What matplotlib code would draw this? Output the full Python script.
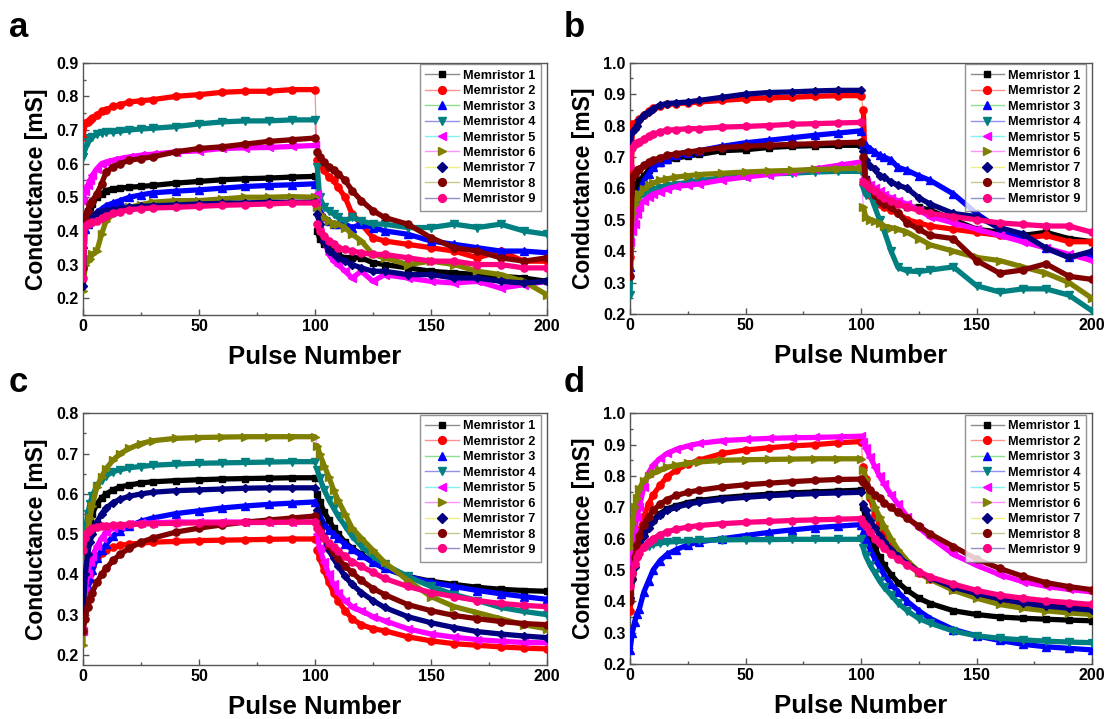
#!/usr/bin/env python3
"""Conductance vs pulse number for nine memristors, measured (a, b) and fitted (c, d)."""
import matplotlib
matplotlib.use('Agg')
import matplotlib.pyplot as plt
from matplotlib.lines import Line2D
from matplotlib.ticker import MultipleLocator

plt.rcParams['font.family'] = ['Liberation Sans', 'DejaVu Sans']
plt.rcParams['font.weight'] = 'bold'

P_RISE = [0, 1, 2, 3, 4, 6, 8, 10, 13, 16, 20, 25, 30, 40, 50, 60, 70, 80, 90, 100]
P_FALL = [101, 102, 104, 106, 108, 110, 113, 116, 120, 125, 130, 140, 150, 160, 170, 180, 190, 200]
PULSES = P_RISE + P_FALL

LABELS = [f'Memristor {i}' for i in range(1, 10)]

# panel a: measured, device set 1 [mS]
A_COND = [
    [0.37, 0.44, 0.46, 0.47, 0.48, 0.50, 0.51, 0.52, 0.525, 0.527, 0.53, 0.532, 0.535, 0.542, 0.547, 0.552, 0.555, 0.557, 0.56, 0.562,
     0.40, 0.377, 0.36, 0.35, 0.34, 0.327, 0.32, 0.32, 0.32, 0.305, 0.30, 0.29, 0.28, 0.275, 0.27, 0.265, 0.26, 0.25],
    [0.68, 0.72, 0.725, 0.73, 0.735, 0.745, 0.755, 0.76, 0.77, 0.775, 0.783, 0.787, 0.79, 0.80, 0.805, 0.812, 0.815, 0.815, 0.82, 0.82,
     0.61, 0.60, 0.58, 0.56, 0.55, 0.53, 0.50, 0.45, 0.42, 0.38, 0.37, 0.36, 0.35, 0.34, 0.32, 0.34, 0.31, 0.31],
    [0.36, 0.405, 0.42, 0.43, 0.44, 0.455, 0.465, 0.475, 0.483, 0.49, 0.50, 0.507, 0.513, 0.518, 0.522, 0.527, 0.532, 0.535, 0.537, 0.54,
     0.50, 0.46, 0.44, 0.43, 0.42, 0.42, 0.42, 0.41, 0.42, 0.41, 0.40, 0.39, 0.37, 0.36, 0.35, 0.34, 0.34, 0.335],
    [0.62, 0.645, 0.665, 0.675, 0.68, 0.688, 0.692, 0.695, 0.695, 0.697, 0.70, 0.703, 0.705, 0.71, 0.718, 0.724, 0.727, 0.727, 0.73, 0.73,
     0.59, 0.50, 0.47, 0.46, 0.45, 0.44, 0.43, 0.44, 0.43, 0.42, 0.42, 0.41, 0.41, 0.42, 0.41, 0.42, 0.40, 0.39],
    [0.49, 0.52, 0.535, 0.55, 0.565, 0.585, 0.60, 0.605, 0.61, 0.615, 0.62, 0.625, 0.628, 0.635, 0.638, 0.645, 0.647, 0.648, 0.651, 0.654,
     0.51, 0.44, 0.37, 0.33, 0.31, 0.30, 0.28, 0.26, 0.28, 0.25, 0.27, 0.26, 0.25, 0.245, 0.25, 0.23, 0.24, 0.25],
    [0.22, 0.30, 0.31, 0.315, 0.33, 0.34, 0.39, 0.43, 0.45, 0.46, 0.47, 0.478, 0.485, 0.49, 0.49, 0.495, 0.50, 0.50, 0.502, 0.50,
     0.47, 0.45, 0.44, 0.43, 0.42, 0.42, 0.41, 0.39, 0.37, 0.33, 0.32, 0.30, 0.31, 0.30, 0.28, 0.27, 0.25, 0.21],
    [0.235, 0.44, 0.443, 0.446, 0.448, 0.452, 0.456, 0.46, 0.463, 0.466, 0.47, 0.473, 0.475, 0.477, 0.48, 0.482, 0.483, 0.485, 0.485, 0.485,
     0.45, 0.42, 0.37, 0.34, 0.33, 0.32, 0.31, 0.30, 0.29, 0.28, 0.28, 0.27, 0.27, 0.26, 0.26, 0.25, 0.245, 0.25],
    [0.29, 0.44, 0.46, 0.48, 0.49, 0.51, 0.54, 0.575, 0.59, 0.60, 0.61, 0.615, 0.62, 0.635, 0.645, 0.65, 0.658, 0.666, 0.671, 0.676,
     0.635, 0.62, 0.605, 0.59, 0.58, 0.57, 0.55, 0.52, 0.49, 0.46, 0.44, 0.42, 0.38, 0.35, 0.34, 0.32, 0.31, 0.32],
    [0.26, 0.415, 0.42, 0.422, 0.425, 0.43, 0.437, 0.445, 0.452, 0.457, 0.463, 0.466, 0.468, 0.47, 0.473, 0.476, 0.478, 0.48, 0.483, 0.483,
     0.42, 0.40, 0.385, 0.37, 0.36, 0.35, 0.345, 0.34, 0.335, 0.33, 0.33, 0.32, 0.31, 0.31, 0.30, 0.30, 0.29, 0.29],
]

# panel b: measured, device set 2 [mS]
B_COND = [
    [0.58, 0.582, 0.604, 0.614, 0.625, 0.64, 0.657, 0.67, 0.68, 0.69, 0.696, 0.703, 0.708, 0.72, 0.723, 0.73, 0.734, 0.736, 0.737, 0.737,
     0.66, 0.63, 0.61, 0.59, 0.58, 0.57, 0.56, 0.55, 0.54, 0.54, 0.53, 0.50, 0.47, 0.46, 0.45, 0.46, 0.44, 0.43],
    [0.38, 0.806, 0.80, 0.81, 0.82, 0.835, 0.845, 0.855, 0.862, 0.867, 0.87, 0.872, 0.875, 0.88, 0.885, 0.888, 0.89, 0.893, 0.895, 0.895,
     0.85, 0.62, 0.58, 0.57, 0.55, 0.54, 0.53, 0.52, 0.50, 0.49, 0.48, 0.47, 0.46, 0.45, 0.44, 0.45, 0.43, 0.43],
    [0.35, 0.51, 0.54, 0.56, 0.587, 0.625, 0.646, 0.667, 0.683, 0.694, 0.705, 0.712, 0.72, 0.734, 0.745, 0.753, 0.761, 0.769, 0.776, 0.783,
     0.742, 0.737, 0.726, 0.715, 0.705, 0.70, 0.69, 0.667, 0.657, 0.64, 0.625, 0.582, 0.52, 0.47, 0.444, 0.41, 0.38, 0.39],
    [0.26, 0.51, 0.54, 0.56, 0.572, 0.583, 0.59, 0.595, 0.60, 0.606, 0.612, 0.62, 0.625, 0.633, 0.64, 0.646, 0.648, 0.652, 0.654, 0.654,
     0.60, 0.58, 0.58, 0.54, 0.50, 0.465, 0.40, 0.348, 0.337, 0.335, 0.34, 0.35, 0.29, 0.27, 0.28, 0.28, 0.26, 0.21],
    [0.43, 0.465, 0.487, 0.518, 0.54, 0.56, 0.572, 0.582, 0.588, 0.598, 0.606, 0.61, 0.614, 0.627, 0.636, 0.644, 0.652, 0.662, 0.673, 0.684,
     0.63, 0.62, 0.61, 0.60, 0.59, 0.58, 0.57, 0.56, 0.55, 0.53, 0.51, 0.49, 0.47, 0.45, 0.43, 0.41, 0.39, 0.37],
    [0.41, 0.52, 0.55, 0.566, 0.582, 0.598, 0.61, 0.617, 0.625, 0.63, 0.636, 0.64, 0.644, 0.648, 0.652, 0.655, 0.657, 0.66, 0.662, 0.665,
     0.54, 0.51, 0.50, 0.495, 0.49, 0.48, 0.475, 0.47, 0.46, 0.44, 0.42, 0.40, 0.38, 0.37, 0.35, 0.33, 0.30, 0.25],
    [0.745, 0.78, 0.79, 0.80, 0.817, 0.833, 0.843, 0.854, 0.865, 0.87, 0.872, 0.875, 0.88, 0.89, 0.90, 0.905, 0.907, 0.91, 0.912, 0.912,
     0.72, 0.69, 0.67, 0.66, 0.64, 0.636, 0.62, 0.61, 0.60, 0.57, 0.55, 0.52, 0.51, 0.475, 0.455, 0.41, 0.38, 0.40],
    [0.32, 0.636, 0.646, 0.657, 0.662, 0.673, 0.683, 0.69, 0.697, 0.705, 0.71, 0.716, 0.72, 0.73, 0.734, 0.737, 0.74, 0.742, 0.745, 0.747,
     0.70, 0.62, 0.60, 0.58, 0.56, 0.55, 0.54, 0.52, 0.49, 0.47, 0.45, 0.44, 0.37, 0.33, 0.34, 0.36, 0.32, 0.31],
    [0.67, 0.73, 0.74, 0.745, 0.748, 0.758, 0.766, 0.772, 0.78, 0.785, 0.787, 0.79, 0.79, 0.795, 0.797, 0.80, 0.804, 0.806, 0.808, 0.81,
     0.62, 0.615, 0.60, 0.59, 0.58, 0.57, 0.56, 0.55, 0.54, 0.53, 0.52, 0.51, 0.50, 0.49, 0.485, 0.48, 0.48, 0.46],
]

# panel c: fitted, device set 1 [mS]
C_COND = [
    [0.33, 0.45, 0.50, 0.53, 0.55, 0.575, 0.59, 0.60, 0.61, 0.617, 0.622, 0.627, 0.63, 0.633, 0.635, 0.637, 0.638, 0.639, 0.64, 0.64,
     0.60, 0.58, 0.555, 0.535, 0.515, 0.50, 0.48, 0.465, 0.45, 0.43, 0.415, 0.395, 0.383, 0.375, 0.368, 0.363, 0.36, 0.358],
    [0.29, 0.34, 0.38, 0.40, 0.42, 0.44, 0.452, 0.46, 0.467, 0.472, 0.475, 0.478, 0.48, 0.482, 0.484, 0.485, 0.486, 0.487, 0.488, 0.488,
     0.46, 0.44, 0.41, 0.38, 0.355, 0.335, 0.31, 0.29, 0.275, 0.265, 0.26, 0.245, 0.235, 0.228, 0.224, 0.22, 0.217, 0.215],
    [0.32, 0.36, 0.37, 0.39, 0.41, 0.44, 0.46, 0.475, 0.495, 0.508, 0.52, 0.532, 0.54, 0.551, 0.558, 0.565, 0.57, 0.574, 0.577, 0.58,
     0.56, 0.545, 0.525, 0.51, 0.50, 0.49, 0.475, 0.462, 0.447, 0.43, 0.415, 0.395, 0.38, 0.37, 0.36, 0.352, 0.345, 0.338],
    [0.45, 0.50, 0.55, 0.575, 0.595, 0.62, 0.635, 0.645, 0.655, 0.66, 0.665, 0.668, 0.671, 0.674, 0.676, 0.677, 0.678, 0.679, 0.68, 0.68,
     0.66, 0.64, 0.61, 0.585, 0.565, 0.545, 0.52, 0.495, 0.47, 0.445, 0.425, 0.395, 0.37, 0.35, 0.335, 0.318, 0.308, 0.30],
    [0.26, 0.36, 0.40, 0.43, 0.445, 0.47, 0.49, 0.505, 0.515, 0.52, 0.525, 0.527, 0.528, 0.53, 0.53, 0.53, 0.53, 0.53, 0.53, 0.53,
     0.50, 0.465, 0.43, 0.40, 0.375, 0.355, 0.335, 0.32, 0.31, 0.295, 0.285, 0.265, 0.252, 0.244, 0.238, 0.234, 0.231, 0.23],
    [0.225, 0.45, 0.50, 0.54, 0.57, 0.618, 0.642, 0.663, 0.684, 0.70, 0.713, 0.725, 0.732, 0.738, 0.74, 0.741, 0.742, 0.742, 0.742, 0.742,
     0.72, 0.70, 0.67, 0.642, 0.61, 0.584, 0.55, 0.515, 0.49, 0.46, 0.43, 0.385, 0.345, 0.32, 0.305, 0.29, 0.275, 0.265],
    [0.30, 0.40, 0.45, 0.48, 0.50, 0.53, 0.55, 0.565, 0.578, 0.587, 0.594, 0.60, 0.604, 0.608, 0.61, 0.612, 0.614, 0.615, 0.615, 0.615,
     0.56, 0.53, 0.49, 0.46, 0.44, 0.42, 0.395, 0.375, 0.355, 0.335, 0.318, 0.295, 0.28, 0.268, 0.258, 0.252, 0.247, 0.243],
    [0.26, 0.29, 0.32, 0.34, 0.355, 0.38, 0.40, 0.415, 0.435, 0.45, 0.465, 0.48, 0.49, 0.505, 0.515, 0.523, 0.53, 0.535, 0.54, 0.545,
     0.525, 0.51, 0.49, 0.47, 0.455, 0.44, 0.42, 0.405, 0.385, 0.365, 0.35, 0.325, 0.31, 0.298, 0.29, 0.283, 0.278, 0.275],
    [0.46, 0.49, 0.505, 0.51, 0.515, 0.518, 0.52, 0.521, 0.522, 0.523, 0.524, 0.525, 0.526, 0.527, 0.528, 0.528, 0.529, 0.529, 0.53, 0.53,
     0.515, 0.505, 0.49, 0.478, 0.468, 0.458, 0.445, 0.432, 0.42, 0.405, 0.39, 0.37, 0.355, 0.345, 0.335, 0.328, 0.323, 0.32],
]

# panel d: fitted, device set 2 [mS]
D_COND = [
    [0.42, 0.48, 0.52, 0.55, 0.575, 0.615, 0.64, 0.66, 0.68, 0.695, 0.705, 0.715, 0.722, 0.731, 0.737, 0.742, 0.746, 0.749, 0.752, 0.755,
     0.70, 0.66, 0.61, 0.57, 0.54, 0.515, 0.485, 0.46, 0.435, 0.41, 0.393, 0.37, 0.358, 0.35, 0.346, 0.343, 0.34, 0.338],
    [0.37, 0.47, 0.54, 0.59, 0.62, 0.67, 0.71, 0.74, 0.77, 0.798, 0.819, 0.838, 0.851, 0.872, 0.883, 0.89, 0.896, 0.90, 0.906, 0.91,
     0.83, 0.79, 0.73, 0.68, 0.645, 0.615, 0.58, 0.55, 0.52, 0.49, 0.47, 0.44, 0.42, 0.405, 0.395, 0.39, 0.385, 0.38],
    [0.245, 0.30, 0.335, 0.36, 0.375, 0.43, 0.465, 0.50, 0.53, 0.55, 0.565, 0.58, 0.59, 0.60, 0.61, 0.62, 0.628, 0.635, 0.64, 0.645,
     0.62, 0.60, 0.565, 0.535, 0.51, 0.485, 0.455, 0.43, 0.40, 0.37, 0.345, 0.31, 0.29, 0.275, 0.263, 0.255, 0.25, 0.245],
    [0.45, 0.53, 0.55, 0.56, 0.565, 0.572, 0.578, 0.582, 0.586, 0.589, 0.591, 0.593, 0.595, 0.596, 0.597, 0.597, 0.598, 0.598, 0.598, 0.598,
     0.57, 0.545, 0.515, 0.49, 0.465, 0.445, 0.42, 0.395, 0.37, 0.345, 0.33, 0.305, 0.29, 0.282, 0.277, 0.273, 0.27, 0.268],
    [0.50, 0.55, 0.62, 0.67, 0.70, 0.766, 0.81, 0.835, 0.856, 0.872, 0.885, 0.896, 0.904, 0.913, 0.917, 0.92, 0.922, 0.923, 0.925, 0.927,
     0.91, 0.89, 0.86, 0.83, 0.80, 0.775, 0.74, 0.71, 0.67, 0.635, 0.605, 0.55, 0.515, 0.485, 0.463, 0.448, 0.438, 0.43],
    [0.57, 0.65, 0.70, 0.73, 0.76, 0.785, 0.80, 0.81, 0.82, 0.828, 0.834, 0.84, 0.845, 0.85, 0.852, 0.853, 0.854, 0.855, 0.855, 0.855,
     0.82, 0.79, 0.74, 0.70, 0.67, 0.64, 0.60, 0.565, 0.53, 0.495, 0.47, 0.435, 0.41, 0.39, 0.378, 0.37, 0.363, 0.358],
    [0.41, 0.47, 0.51, 0.54, 0.57, 0.61, 0.635, 0.655, 0.675, 0.69, 0.70, 0.71, 0.717, 0.726, 0.732, 0.737, 0.741, 0.744, 0.746, 0.748,
     0.71, 0.69, 0.66, 0.635, 0.61, 0.59, 0.565, 0.545, 0.52, 0.495, 0.475, 0.445, 0.425, 0.408, 0.395, 0.385, 0.378, 0.372],
    [0.40, 0.49, 0.54, 0.58, 0.61, 0.645, 0.67, 0.69, 0.71, 0.725, 0.738, 0.748, 0.755, 0.765, 0.772, 0.777, 0.782, 0.786, 0.789, 0.79,
     0.78, 0.77, 0.755, 0.74, 0.73, 0.715, 0.70, 0.685, 0.665, 0.64, 0.615, 0.575, 0.535, 0.505, 0.48, 0.46, 0.447, 0.437],
    [0.45, 0.49, 0.52, 0.54, 0.555, 0.575, 0.59, 0.60, 0.613, 0.622, 0.63, 0.637, 0.642, 0.648, 0.652, 0.655, 0.658, 0.66, 0.662, 0.664,
     0.65, 0.64, 0.62, 0.60, 0.585, 0.57, 0.55, 0.535, 0.515, 0.495, 0.478, 0.455, 0.435, 0.42, 0.41, 0.402, 0.396, 0.39],
]

MARKER_COLORS = ['#000000', '#FF0000', '#0000FF', '#008080', '#FF00FF',
                 '#808000', '#000080', '#800000', '#FF0080']
LINE_COLORS = ['#8C8C8C', '#FF9090', '#8CE08C', '#9090E8', '#80F0F0',
               '#FF90FF', '#F0F080', '#C8C890', '#9090C8']
MARKERS = ['s', 'o', '^', 'v', '<', '>', 'D', 'o', 'o']
MSIZES = [4.6, 5.2, 5.4, 5.4, 5.4, 5.4, 4.4, 5.2, 5.2]

FRAME = '#555555'
N_RISE = len(P_RISE)

# (panel data, ylim, letter, axes rect in figure fraction, letter xy)
PANELS = [
    (A_COND, (0.15, 0.9), 'a', [0.0748, 0.5619, 0.4184, 0.3509], (0.008, 0.948)),
    (B_COND, (0.2, 1.0), 'b', [0.5681, 0.5633, 0.4166, 0.3495], (0.508, 0.948)),
    (C_COND, (0.175, 0.8), 'c', [0.0748, 0.0751, 0.4184, 0.3500], (0.008, 0.455)),
    (D_COND, (0.2, 1.0), 'd', [0.5681, 0.0765, 0.4166, 0.3486], (0.508, 0.455)),
]


def _draw_series(ax, k, values):
    mc = MARKER_COLORS[k]
    rise = values[:N_RISE]
    fall = values[N_RISE:]
    style = dict(color=mc, lw=3.8, marker=MARKERS[k], ms=MSIZES[k],
                 mec=mc, mfc=mc, solid_joinstyle='round', solid_capstyle='round',
                 zorder=3 + k)
    ax.plot(P_RISE, rise, **style)
    ax.plot(P_FALL, fall, **style)
    # thin connector across the SET/RESET switch
    ax.plot(PULSES[N_RISE - 1:N_RISE + 1], values[N_RISE - 1:N_RISE + 1],
            color=LINE_COLORS[k], lw=0.9, zorder=2)


def _legend(ax):
    handles = [
        Line2D([], [], color=LINE_COLORS[k], lw=1.0, marker=MARKERS[k],
               ms=MSIZES[k] + 0.4, mec=MARKER_COLORS[k], mfc=MARKER_COLORS[k])
        for k in range(9)
    ]
    leg = ax.legend(handles, LABELS, loc='upper right', bbox_to_anchor=(0.988, 0.995),
                    borderaxespad=0.0, frameon=True, fancybox=False,
                    handlelength=2.6, handletextpad=0.35, labelspacing=0.27,
                    borderpad=0.45, prop=dict(weight='bold', size=9.2))
    frame = leg.get_frame()
    frame.set_edgecolor('#777777')
    frame.set_linewidth(1.0)
    leg.set_zorder(20)


def run():
    fig = plt.figure(figsize=(11.09, 7.19), dpi=100)
    for data, ylim, letter, rect, lxy in PANELS:
        ax = fig.add_axes(rect)
        for k, values in enumerate(data):
            _draw_series(ax, k, values)
        ax.set_xlim(0, 200)
        ax.set_ylim(*ylim)
        ax.xaxis.set_major_locator(MultipleLocator(50))
        ax.xaxis.set_minor_locator(MultipleLocator(25))
        ax.yaxis.set_major_locator(MultipleLocator(0.1))
        ax.yaxis.set_minor_locator(MultipleLocator(0.05))
        ax.yaxis.set_major_formatter(plt.FuncFormatter(lambda v, _: f'{v:.1f}'))
        ax.tick_params(which='both', direction='in', top=False, right=False,
                       color=FRAME, width=1.0)
        ax.tick_params(which='major', length=4.5, labelsize=11.5, pad=3)
        ax.tick_params(which='minor', length=2.5)
        for lab in ax.get_xticklabels() + ax.get_yticklabels():
            lab.set_fontweight('bold')
        for spine in ax.spines.values():
            spine.set_color(FRAME)
            spine.set_linewidth(1.0)
        ax.set_xlabel('Pulse Number', fontsize=18.5, fontweight='bold', labelpad=8)
        ax.set_ylabel('Conductance [mS]', fontsize=16.5, fontweight='bold', labelpad=6)
        _legend(ax)
        fig.text(lxy[0], lxy[1], letter, fontsize=25, fontweight='bold',
                 ha='left', va='baseline')
    fig.savefig('out.png', dpi=100)
    plt.close(fig)


if __name__ == '__main__':
    run()
